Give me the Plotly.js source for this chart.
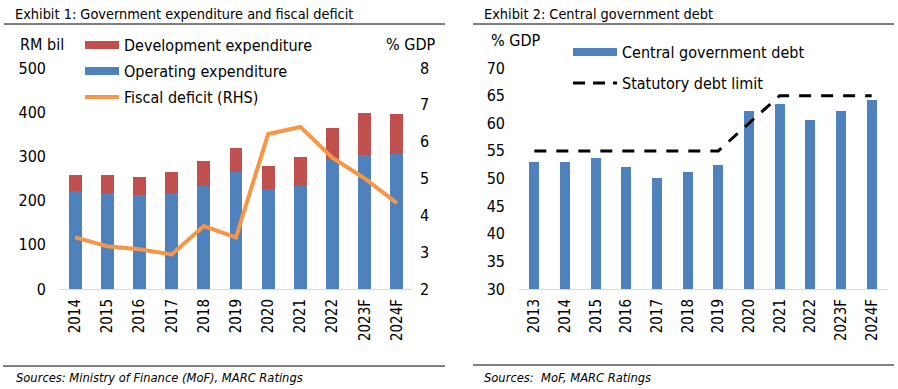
<!DOCTYPE html>
<html>
<head>
<meta charset="utf-8">
<script src="https://cdn.plot.ly/plotly-3.0.1.min.js"></script>
<style>html,body{margin:0;padding:0;background:#fff;}#chart{width:898px;height:389px;}</style>
</head>
<body>
<div id="chart"></div>
<script>
// ---- Data ----
const years1 = ['2014','2015','2016','2017','2018','2019','2020','2021','2022','2023F','2024F'];
const operatingExp = [221, 218, 212, 218, 232, 264, 226, 232, 295, 303, 305];
const developmentExp = [38, 41, 41, 46, 57, 55, 52, 66, 69, 95, 91];
const fiscalDeficit = [3.4, 3.16, 3.08, 2.94, 3.71, 3.4, 6.21, 6.4, 5.56, 5.0, 4.33];

const years2 = ['2013','2014','2015','2016','2017','2018','2019','2020','2021','2022','2023F','2024F'];
const centralDebt = [53.0, 52.9, 53.8, 52.0, 50.1, 51.2, 52.5, 62.2, 63.5, 60.5, 62.2, 64.2];
const debtLimit = [55, 55, 55, 55, 55, 55, 55, 60, 65, 65, 65, 65];

// ---- Style ----
const FONT = 'DejaVu Sans Condensed, DejaVu Sans, sans-serif';
const BLUE = '#4F81BD', RED = '#C0504D', ORANGE = '#F79646';
const W = 898, H = 389;
const px = v => v / W;
const py = v => 1 - v / H;

const traces = [
  {type:'bar', x:years1, y:operatingExp, xaxis:'x', yaxis:'y', marker:{color:BLUE}, width:0.4, showlegend:false, name:'Operating expenditure'},
  {type:'bar', x:years1, y:developmentExp, xaxis:'x', yaxis:'y', marker:{color:RED}, width:0.4, showlegend:false, name:'Development expenditure'},
  {type:'scatter', mode:'lines', x:years1, y:fiscalDeficit, xaxis:'x', yaxis:'y2', line:{color:ORANGE, width:4}, showlegend:false, name:'Fiscal deficit (RHS)'},
  {type:'bar', x:years2, y:centralDebt, xaxis:'x2', yaxis:'y3', marker:{color:BLUE}, width:0.33, showlegend:false, name:'Central government debt'},
  {type:'scatter', mode:'lines', x:years2, y:debtLimit, xaxis:'x2', yaxis:'y3', line:{color:'#000', width:3, dash:'12px,10px'}, showlegend:false, name:'Statutory debt limit'},
  // legend entries
  {type:'scatter', mode:'lines', x:[null], y:[null], xaxis:'x', yaxis:'y', line:{color:RED, width:8}, name:'Development expenditure', legend:'legend'},
  {type:'scatter', mode:'lines', x:[null], y:[null], xaxis:'x', yaxis:'y', line:{color:BLUE, width:8}, name:'Operating expenditure', legend:'legend2'},
  {type:'scatter', mode:'lines', x:[null], y:[null], xaxis:'x', yaxis:'y', line:{color:ORANGE, width:4}, name:'Fiscal deficit (RHS)', legend:'legend3'},
  {type:'scatter', mode:'lines', x:[null], y:[null], xaxis:'x2', yaxis:'y3', line:{color:BLUE, width:8}, name:'Central government debt', legend:'legend4'},
  {type:'scatter', mode:'lines', x:[null], y:[null], xaxis:'x2', yaxis:'y3', line:{color:'#000', width:3, dash:'12px,8px'}, name:'Statutory debt limit', legend:'legend5'}
];

function leg(x, y, iw) {
  return {x:px(x), y:py(y), xanchor:'left', yanchor:'middle', bgcolor:'rgba(0,0,0,0)', font:{family:FONT, size:16, color:'#000'}, itemwidth:iw, itemclick:false, itemdoubleclick:false};
}

const tickFontY = {family:FONT, size:16, color:'#000'};
const tickFontX = {family:FONT, size:15, color:'#000'};
const yDom = [py(289), py(68)];

const layout = {
  width:W, height:H,
  margin:{l:0, r:0, t:0, b:0},
  paper_bgcolor:'#fff', plot_bgcolor:'rgba(0,0,0,0)',
  barmode:'stack',
  font:{family:FONT, color:'#000'},
  xaxis:{domain:[px(59), px(413)], anchor:'y', type:'category', tickangle:-90, showline:true, linecolor:'#D9D9D9', linewidth:1, ticks:'', showgrid:false, zeroline:false, tickfont:tickFontX, ticklabelstandoff:3, fixedrange:true},
  yaxis:{domain:yDom, anchor:'x', range:[0,500], dtick:100, showgrid:false, zeroline:false, ticks:'', tickfont:tickFontY, ticklabelstandoff:12, fixedrange:true},
  yaxis2:{overlaying:'y', side:'right', anchor:'x', range:[2,8], dtick:1, showgrid:false, zeroline:false, ticks:'', tickfont:tickFontY, ticklabelstandoff:6, fixedrange:true},
  xaxis2:{domain:[px(519), px(887)], anchor:'y3', type:'category', tickangle:-90, showline:true, linecolor:'#D9D9D9', linewidth:1, ticks:'', showgrid:false, zeroline:false, tickfont:tickFontX, ticklabelstandoff:3, fixedrange:true},
  yaxis3:{domain:yDom, anchor:'x2', range:[30,70], dtick:5, showgrid:false, zeroline:false, ticks:'', tickfont:tickFontY, ticklabelstandoff:13, fixedrange:true},
  legend:leg(80, 45, 34),
  legend2:leg(80, 71, 34),
  legend3:leg(80, 97, 34),
  legend4:leg(568, 52, 44),
  legend5:leg(568, 83, 44),
  annotations:[
    {text:'Exhibit 1: Government expenditure and fiscal deficit', xref:'paper', yref:'paper', x:px(13), y:py(14), xanchor:'left', yanchor:'middle', showarrow:false, font:{family:FONT, size:14.4, color:'#000'}},
    {text:'Exhibit 2: Central government debt', xref:'paper', yref:'paper', x:px(482), y:py(14), xanchor:'left', yanchor:'middle', showarrow:false, font:{family:FONT, size:14.4, color:'#000'}},
    {text:'RM bil', xref:'paper', yref:'paper', x:px(42), y:py(44), xanchor:'center', yanchor:'middle', showarrow:false, font:{family:FONT, size:16, color:'#000'}},
    {text:'% GDP', xref:'paper', yref:'paper', x:px(437), y:py(44), xanchor:'right', yanchor:'middle', showarrow:false, font:{family:FONT, size:16, color:'#000'}},
    {text:'% GDP', xref:'paper', yref:'paper', x:px(515), y:py(40), xanchor:'center', yanchor:'middle', showarrow:false, font:{family:FONT, size:16, color:'#000'}},
    {text:'<i>Sources: Ministry of Finance (MoF), MARC Ratings</i>', xref:'paper', yref:'paper', x:px(14), y:py(377), xanchor:'left', yanchor:'middle', showarrow:false, font:{family:FONT, size:12.8, color:'#000'}},
    {text:'<i>Sources:  MoF, MARC Ratings</i>', xref:'paper', yref:'paper', x:px(482), y:py(377), xanchor:'left', yanchor:'middle', showarrow:false, font:{family:FONT, size:12.8, color:'#000'}}
  ],
  shapes:[
    {type:'line', xref:'paper', yref:'paper', x0:px(4), x1:px(445), y0:py(24), y1:py(24), line:{color:'#000', width:1}},
    {type:'line', xref:'paper', yref:'paper', x0:px(473), x1:px(894), y0:py(24), y1:py(24), line:{color:'#000', width:1}},
    {type:'line', xref:'paper', yref:'paper', x0:px(3), x1:px(445), y0:py(366), y1:py(366), line:{color:'#000', width:1}},
    {type:'line', xref:'paper', yref:'paper', x0:px(473), x1:px(894), y0:py(365), y1:py(365), line:{color:'#000', width:1}}
  ]
};

Plotly.newPlot('chart', traces, layout, {displayModeBar:false, staticPlot:true});
</script>
</body>
</html>
